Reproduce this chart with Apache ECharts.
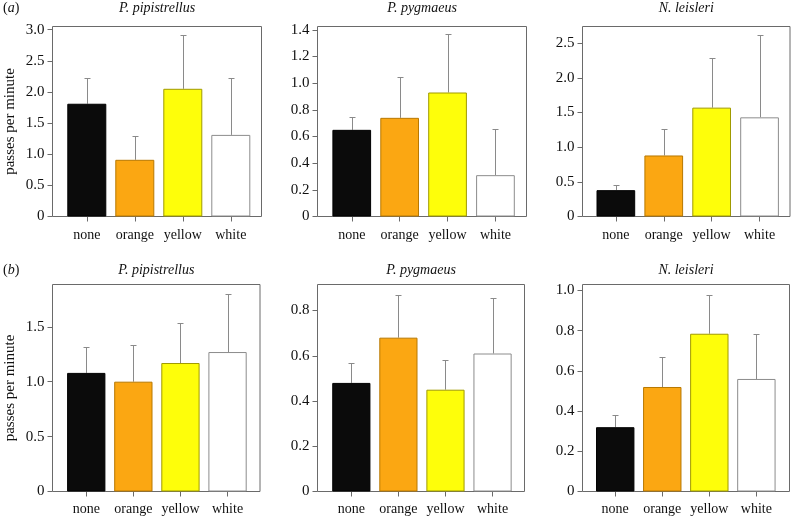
<!DOCTYPE html>
<html>
<head>
<meta charset="utf-8">
<script src="https://cdn.jsdelivr.net/npm/echarts@6/dist/echarts.min.js"></script>
<style>
html,body{margin:0;padding:0;background:#fff;}
#chart{width:794px;height:517px;}
</style>
</head>
<body>
<div id="chart"></div>
<script>
// ---------- data ----------
const categories = ['none', 'orange', 'yellow', 'white'];
const speciesTitles = ['P. pipistrellus', 'P. pygmaeus', 'N. leisleri'];
const panelLetters = ['a', 'b'];
const yAxisTitle = 'passes per minute';

// (a) means and upper error limits
const aPipMean  = [1.81, 0.91, 2.05, 1.31];
const aPipUpper = [2.22, 1.30, 2.92, 2.22];
const aPygMean  = [0.65, 0.74, 0.93, 0.31];
const aPygUpper = [0.745, 1.05, 1.37, 0.66];
const aLeiMean  = [0.38, 0.88, 1.57, 1.43];
const aLeiUpper = [0.46, 1.26, 2.29, 2.62];
// (b) means and upper error limits
const bPipMean  = [1.08, 1.00, 1.17, 1.27];
const bPipUpper = [1.32, 1.33, 1.53, 1.80];
const bPygMean  = [0.48, 0.68, 0.45, 0.61];
const bPygUpper = [0.566, 0.87, 0.58, 0.855];
const bLeiMean  = [0.32, 0.52, 0.785, 0.56];
const bLeiUpper = [0.38, 0.67, 0.98, 0.785];

// y-axis ticks and upper limits
const aPipTicks = [0, 0.5, 1.0, 1.5, 2.0, 2.5, 3.0];
const aPygTicks = [0, 0.2, 0.4, 0.6, 0.8, 1.0, 1.2, 1.4];
const aLeiTicks = [0, 0.5, 1.0, 1.5, 2.0, 2.5];
const bPipTicks = [0, 0.5, 1.0, 1.5];
const bPygTicks = [0, 0.2, 0.4, 0.6, 0.8];
const bLeiTicks = [0, 0.2, 0.4, 0.6, 0.8, 1.0];
const yMax = [3.05, 1.425, 2.74, 1.885, 0.915, 1.03];

const means  = [aPipMean, aPygMean, aLeiMean, bPipMean, bPygMean, bLeiMean];
const uppers = [aPipUpper, aPygUpper, aLeiUpper, bPipUpper, bPygUpper, bLeiUpper];
const ticks  = [aPipTicks, aPygTicks, aLeiTicks, bPipTicks, bPygTicks, bLeiTicks];

// ---------- layout & style ----------
const rows = [{top: 26.5, height: 190}, {top: 284.5, height: 207}];
const frames = [
  {left: 52.5,  width: 209,   barLeft: 62.8,  band: 48.0,  barW: 39},
  {left: 317.5, width: 209,   barLeft: 327.8, band: 47.9,  barW: 38.7},
  {left: 582.5, width: 207.5, barLeft: 591.9, band: 47.9,  barW: 38.7},
  {left: 52.5,  width: 207.5, barLeft: 62.7,  band: 47.1,  barW: 38.3},
  {left: 317.5, width: 207,   barLeft: 327.8, band: 47.07, barW: 38.2},
  {left: 582.5, width: 207,   barLeft: 591.7, band: 47.05, barW: 38.4}
];
const fillColors   = ['#0b0b0b', '#fba712', '#fefe0a', '#ffffff'];
const borderColors = ['#000000', '#b87800', '#a09a00', '#8c8c8c'];
const frameColor = '#6a6a6a';
const errColor = '#8a8a8a';
const FONT = '"Liberation Serif", "Times New Roman", serif';

const grid = [], xAxis = [], yAxis = [], series = [], title = [];

for (let p = 0; p < 6; p++) {
  const r = rows[Math.floor(p / 3)];
  const f = frames[p];
  const col = p % 3;
  // frame grid
  const fi = grid.length;
  grid.push({left: f.left, top: r.top, width: f.width, height: r.height,
    show: true, borderColor: frameColor, borderWidth: 1, backgroundColor: 'transparent'});
  xAxis.push({gridIndex: fi, type: 'value', show: false, min: 0, max: 1});
  yAxis.push({gridIndex: fi, type: 'value', show: false, min: 0, max: 1});
  // bar grid
  const bi = grid.length;
  grid.push({left: f.barLeft, top: r.top, width: f.band * 4, height: r.height});
  const bxi = xAxis.length;
  xAxis.push({
    gridIndex: bi, type: 'category', data: categories,
    axisLine: {show: false},
    axisTick: {show: true, alignWithLabel: true, interval: 0, length: 5, lineStyle: {color: frameColor}},
    axisLabel: {interval: 0, hideOverlap: false, color: '#111', fontFamily: FONT, fontSize: 14,
      margin: p < 3 ? 12 : 11}
  });
  const byi = yAxis.length;
  yAxis.push({
    gridIndex: bi, type: 'value', min: 0, max: yMax[p],
    offset: f.barLeft - f.left,
    axisLine: {show: false},
    splitLine: {show: false},
    axisTick: {show: true, length: 5, lineStyle: {color: frameColor}, customValues: ticks[p]},
    axisLabel: {color: '#111', fontFamily: FONT, fontSize: 15, margin: 8,
      customValues: ticks[p],
      formatter: v => (v === 0 ? '0' : Number(v).toFixed(1))},
    name: col === 0 ? yAxisTitle : '',
    nameLocation: 'middle', nameGap: 35,
    nameTextStyle: {color: '#111', fontFamily: FONT, fontSize: 15}
  });
  // error bars (drawn first, under bars)
  series.push({
    type: 'custom', xAxisIndex: bxi, yAxisIndex: byi, z: 1,
    data: categories.map((c, i) => [i, means[p][i], uppers[p][i]]),
    renderItem: function (params, api) {
      const base = api.coord([api.value(0), api.value(1)]);
      const top = api.coord([api.value(0), api.value(2)]);
      const x = Math.round(base[0]) + 0.5;
      const yt = Math.round(top[1]) + 0.5;
      return {
        type: 'group',
        children: [
          {type: 'line', shape: {x1: x, y1: base[1], x2: x, y2: yt},
            style: {stroke: errColor, lineWidth: 1}},
          {type: 'line', shape: {x1: x - 3, y1: yt, x2: x + 3, y2: yt},
            style: {stroke: errColor, lineWidth: 1}}
        ]
      };
    }
  });
  series.push({
    type: 'bar', xAxisIndex: bxi, yAxisIndex: byi, z: 2,
    barWidth: f.barW,
    data: means[p].map((v, i) => ({value: v,
      itemStyle: {color: fillColors[i], borderColor: borderColors[i], borderWidth: 1}})),
    animation: false
  });
  title.push({
    text: speciesTitles[col], left: f.left + f.width / 2, top: p < 3 ? 1 : 263,
    textAlign: 'center', padding: 0,
    textStyle: {fontFamily: FONT, fontSize: 14, fontStyle: 'italic', fontWeight: 'normal', color: '#111'}
  });
}
panelLetters.forEach((L, k) => {
  title.push({
    text: '{p|(}{i|' + L + '}{p|)}', left: 3, top: k === 0 ? 1 : 263, padding: 0,
    textStyle: {fontWeight: 'normal', fontFamily: FONT, fontSize: 14, color: '#111', rich: {
      p: {fontFamily: FONT, fontSize: 14, fontWeight: 'normal', color: '#111'},
      i: {fontFamily: FONT, fontSize: 14, fontStyle: 'italic', fontWeight: 'normal', color: '#111'}
    }}
  });
});

const chart = echarts.init(document.getElementById('chart'), null, {renderer: 'canvas'});
chart.setOption({animation: false, backgroundColor: '#fff', title, grid, xAxis, yAxis, series});
</script>
</body>
</html>
